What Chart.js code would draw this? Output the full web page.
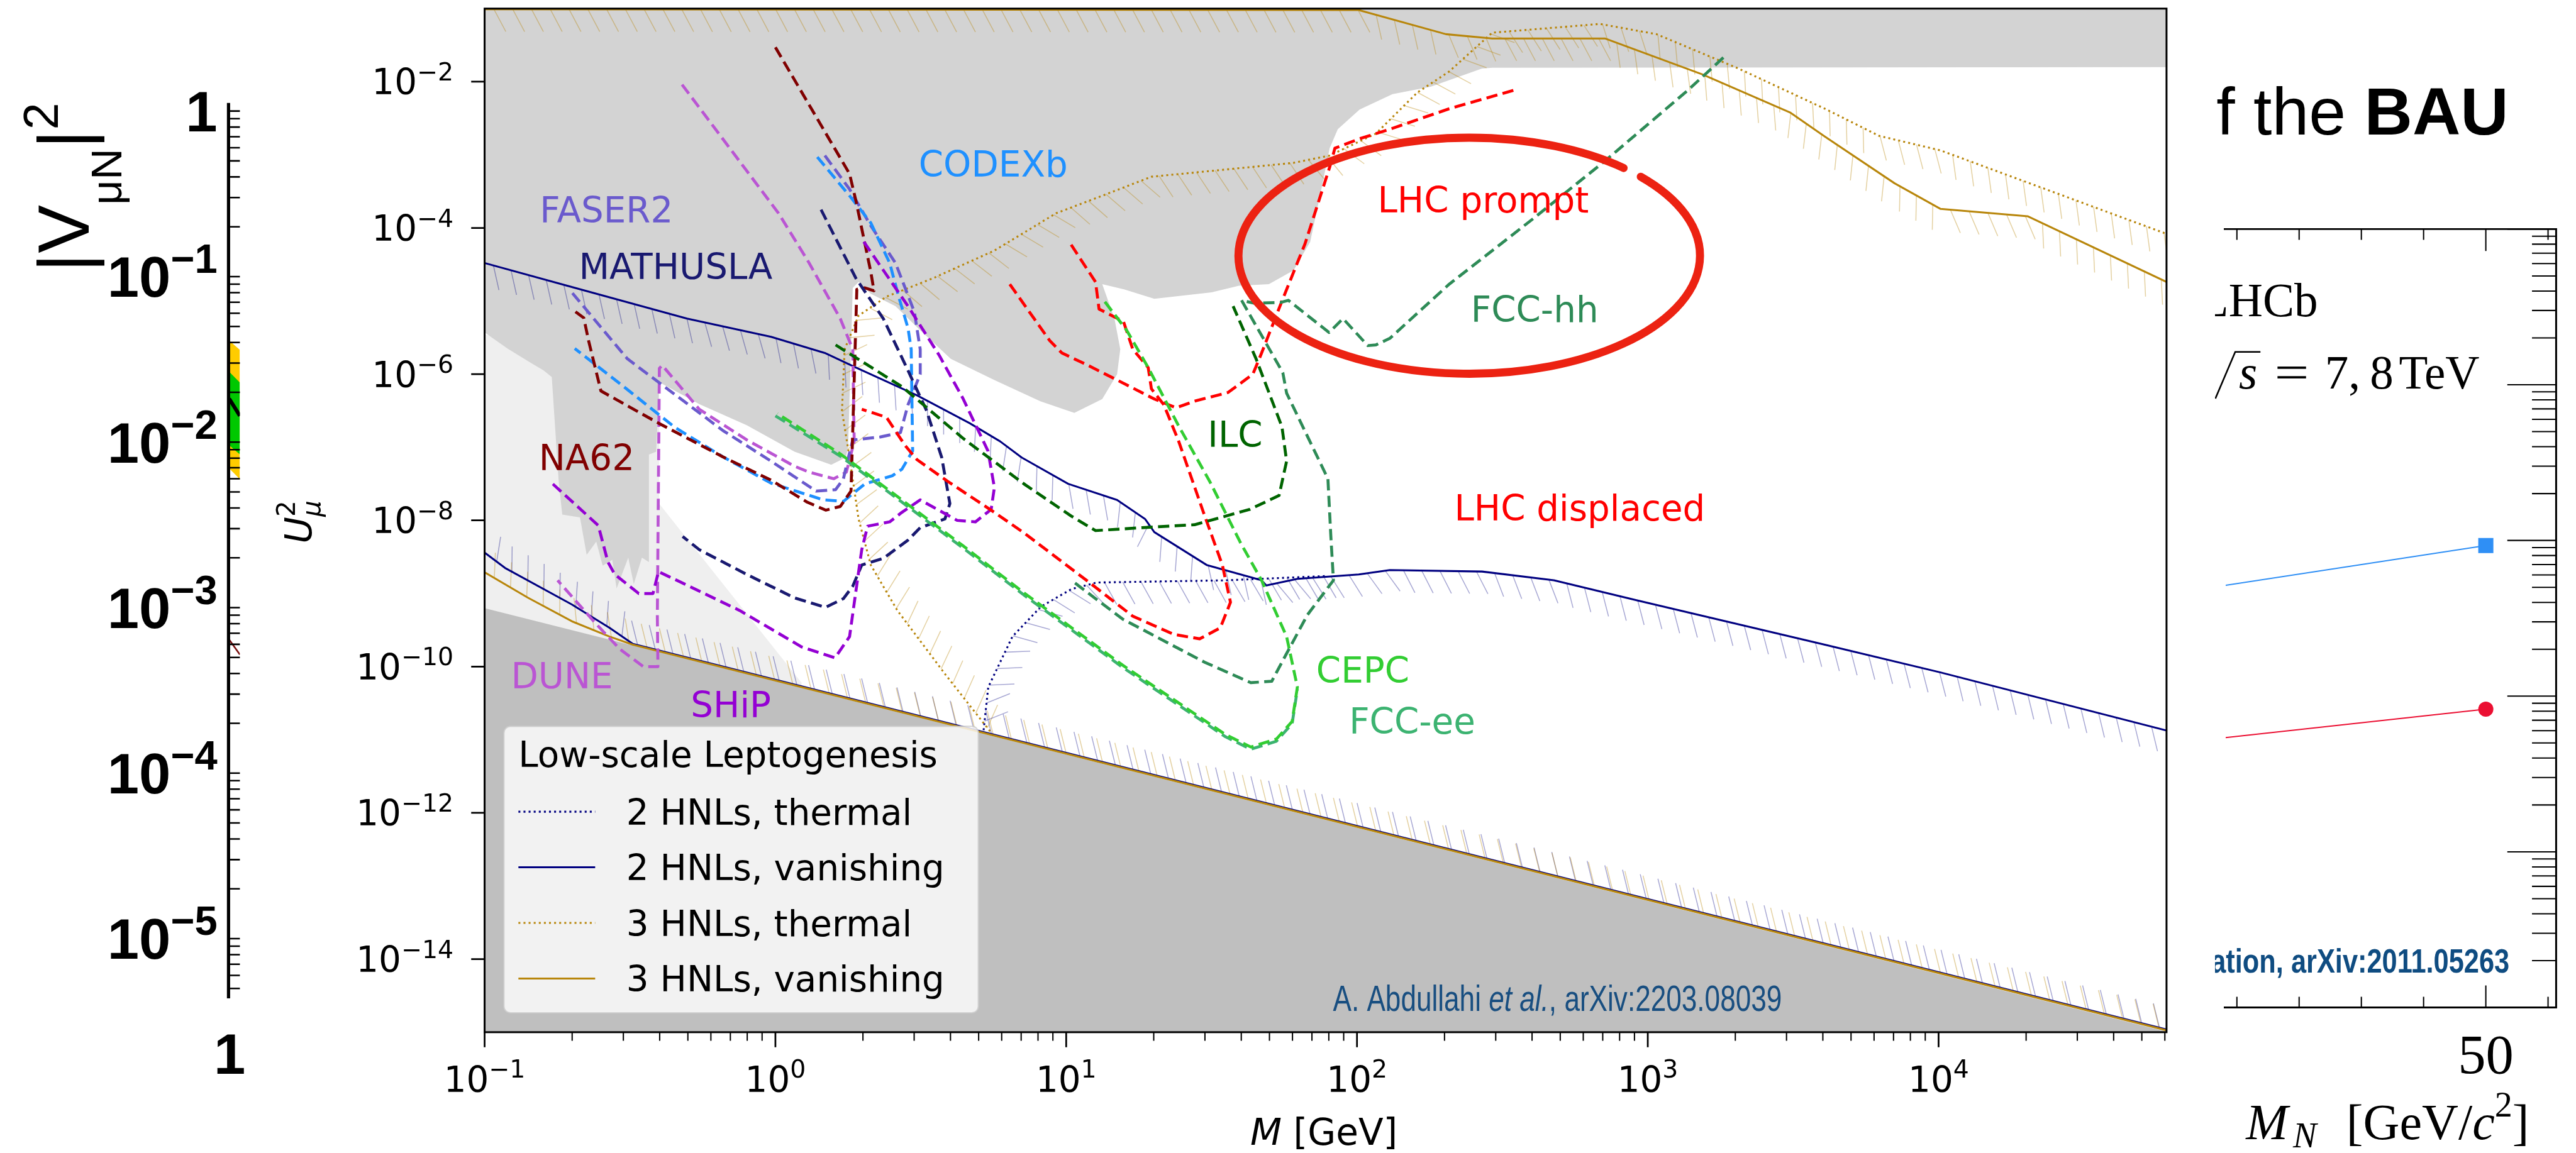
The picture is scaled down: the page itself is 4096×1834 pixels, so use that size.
<!DOCTYPE html>
<html>
<head>
<meta charset="utf-8">
<title>HNL sensitivity</title>
<script src="https://cdn.jsdelivr.net/npm/chart.js@4.4.1/dist/chart.umd.min.js"></script>
<style>
  html, body { margin: 0; padding: 0; background: #fff; }
  body { width: 4096px; height: 1834px; position: relative; overflow: hidden; }
  canvas { position: absolute; top: 0; }
</style>
</head>
<body>
<canvas id="leftPanel" width="400" height="1834" style="left:0"></canvas>
<canvas id="mainPanel" width="3122" height="1834" style="left:400px"></canvas>
<canvas id="rightPanel" width="574" height="1834" style="left:3522px"></canvas>
<script>
const S = 4096 / 4800;          // reference px -> page px
const MX = 400, RX = 3522;      // left edge of the main and right canvases
const mx = X => X * S - MX;
const rx = X => X * S - RX;

// ---------- main panel, points are [log10(M/GeV), log10(U_mu^2)] ----------
const xTickExps = [-1, 0, 1, 2, 3, 4];
const yTickExps = [-14, -12, -10, -8, -6, -4, -2];

const excludedRegion = [
  [-1.05, -0.9], [4.85, -0.9], [4.85, -1.80], [2.465, -1.81], [2.43, -1.82], [2.253, -2.07],
  [2.122, -2.17], [2.009, -2.38], [1.934, -2.65], [1.906, -2.91], [1.876, -3.50], [1.839, -4.19],
  [1.782, -4.58], [1.697, -4.77], [1.594, -4.79], [1.50, -4.88], [1.303, -4.97], [1.199, -4.84],
  [1.124, -4.77], [1.166, -5.24], [1.186, -5.66], [1.175, -6.00], [1.124, -6.34], [1.028, -6.53],
  [0.911, -6.37], [0.753, -6.08], [0.603, -5.79], [0.498, -5.40], [0.413, -5.07], [0.328, -4.90],
  [0.286, -4.74], [0.266, -4.82], [0.25, -7.0], [0.242, -7.14], [0.192, -7.24], [0.066, -7.06],
  [-0.098, -6.70], [-0.262, -6.41], [-0.399, -6.11], [-0.41, -7.06], [-0.435, -7.10], [-0.435, -8.57],
  [-0.459, -8.51], [-0.487, -8.87], [-0.506, -8.51], [-0.546, -8.93], [-0.561, -8.54], [-0.594, -8.62],
  [-0.616, -8.29], [-0.649, -8.47], [-0.672, -7.96], [-0.733, -7.92], [-0.745, -7.48], [-0.769, -6.04],
  [-0.797, -5.95], [-0.839, -5.85], [-0.921, -5.65], [-1.0, -5.43], [-1.05, -5.40]
];
const bbnRegion = [[-1.05, -5.40], [-0.40, -6.11], [-0.40, -7.77], [0.09, -10.22], [0.09, -15.2], [-1.05, -15.2]];
const seesawRegion = [[-1.05, -9.15], [4.85, -15.06], [4.85, -15.2], [-1.05, -15.2]];

const hnl2Vanishing = [
  [-1.0, -4.48], [-0.716, -4.79], [-0.304, -5.24], [-0.015, -5.49], [0.170, -5.71], [0.277, -5.91],
  [0.487, -6.29], [0.668, -6.67], [0.773, -6.92], [0.847, -7.14], [1.007, -7.50], [1.175, -7.72],
  [1.271, -7.98], [1.303, -8.16], [1.483, -8.61], [1.672, -8.82], [1.688, -8.89], [1.795, -8.80],
  [2.006, -8.74], [2.113, -8.68], [2.43, -8.70], [2.677, -8.82], [2.959, -9.09], [3.609, -9.70],
  [4.007, -10.08], [4.79, -10.88]
];
const hnl2VanishingLow = [[4.79, -14.97], [-0.49, -9.69], [-0.57, -9.47], [-0.70, -9.15], [-0.93, -8.65], [-1.0, -8.44]];
const hnl2Thermal = [[0.716, -10.87], [0.732, -10.28], [0.815, -9.59], [0.913, -9.18], [1.018, -8.94], [1.105, -8.85], [1.548, -8.82], [1.90, -8.76]];
const hnl3Vanishing = [
  [-1.0, -1.01], [2.006, -1.02], [2.306, -1.35], [2.465, -1.41], [2.854, -1.41], [3.188, -1.90],
  [3.489, -2.42], [3.609, -2.75], [3.849, -3.39], [4.007, -3.74], [4.306, -3.84], [4.79, -4.75]
];
const hnl3VanishingLow = [[4.79, -14.98], [-0.49, -9.70], [-0.57, -9.59], [-0.70, -9.38], [-0.85, -9.06], [-1.0, -8.71]];
const hnl3Thermal = [
  [0.749, -10.94], [0.585, -10.11], [0.419, -9.23], [0.328, -8.61], [0.286, -7.98], [0.255, -7.14],
  [0.229, -6.50], [0.238, -5.66], [0.286, -5.20], [0.382, -4.94], [0.541, -4.69], [0.753, -4.31],
  [0.965, -3.80], [1.124, -3.56], [1.293, -3.30], [1.50, -3.22], [1.782, -3.11], [1.906, -3.01],
  [2.065, -2.71], [2.207, -2.15], [2.317, -1.86], [2.465, -1.33], [2.836, -1.21], [3.03, -1.35],
  [3.312, -1.82], [3.609, -2.37], [3.795, -2.74], [4.007, -2.94], [4.79, -4.09]
];

const dune = [
  [-0.321, -2.04], [0.011, -3.80], [0.116, -4.48], [0.223, -5.24], [0.266, -5.66], [0.271, -6.92],
  [0.244, -7.34], [0.201, -7.43], [0.116, -7.34], [0.066, -7.26], [-0.098, -6.90], [-0.262, -6.48],
  [-0.389, -5.88], [-0.399, -5.92], [-0.406, -9.31], [-0.404, -10.00], [-0.454, -10.00], [-0.535, -9.76],
  [-0.618, -9.41], [-0.749, -8.82]
];
const faser2 = [
  [0.170, -3.01], [0.255, -3.47], [0.328, -3.97], [0.413, -4.48], [0.478, -5.15], [0.498, -5.66],
  [0.498, -6.00], [0.456, -6.42], [0.430, -6.80], [0.360, -6.86], [0.266, -6.90], [0.249, -7.17],
  [0.234, -7.43], [0.207, -7.58], [0.140, -7.60], [-0.015, -7.19], [-0.181, -6.77], [-0.345, -6.28],
  [-0.509, -5.79], [-0.707, -4.85]
];
const codexb = [
  [0.144, -3.03], [0.255, -3.56], [0.328, -3.93], [0.393, -4.48], [0.424, -4.94], [0.456, -5.37],
  [0.467, -5.66], [0.472, -7.05], [0.435, -7.30], [0.402, -7.39], [0.308, -7.50], [0.277, -7.60],
  [0.234, -7.74], [0.170, -7.72], [0.149, -7.70], [-0.015, -7.49], [-0.181, -7.13], [-0.345, -6.73],
  [-0.509, -6.21], [-0.69, -5.65]
];
const na62 = [
  [0.0, -1.53], [0.255, -3.26], [0.277, -3.63], [0.328, -4.60], [0.339, -4.86], [0.308, -4.82],
  [0.280, -4.84], [0.271, -6.08], [0.260, -7.60], [0.223, -7.81], [0.173, -7.86], [0.109, -7.75],
  [-0.015, -7.45], [-0.181, -7.13], [-0.402, -6.67], [-0.60, -6.23], [-0.642, -5.55], [-0.659, -5.23],
  [-0.70, -5.11]
];
const mathusla = [
  [0.157, -3.75], [0.277, -4.69], [0.371, -5.24], [0.456, -5.95], [0.520, -6.50], [0.572, -7.14],
  [0.60, -7.77], [0.583, -7.98], [0.498, -8.10], [0.456, -8.27], [0.371, -8.52], [0.297, -8.61],
  [0.266, -8.90], [0.234, -9.07], [0.172, -9.19], [0.066, -9.06], [-0.098, -8.74], [-0.262, -8.40],
  [-0.319, -8.22]
];
const ship = [
  [0.304, -4.19], [0.456, -5.07], [0.563, -5.74], [0.646, -6.34], [0.731, -7.05], [0.753, -7.55],
  [0.742, -7.85], [0.688, -8.02], [0.625, -8.00], [0.498, -7.72], [0.435, -7.89], [0.393, -8.02],
  [0.317, -8.08], [0.297, -8.40], [0.288, -8.65], [0.255, -9.59], [0.205, -9.88], [0.09, -9.73],
  [-0.124, -9.23], [-0.402, -8.70], [-0.421, -9.00], [-0.47, -9.00], [-0.552, -8.74], [-0.576, -8.57],
  [-0.609, -8.07], [-0.766, -7.50]
];
const lhcDisplaced = [
  [1.017, -4.23], [1.101, -4.74], [1.113, -5.11], [1.197, -5.28], [1.229, -5.66], [1.282, -5.91],
  [1.293, -6.20], [1.336, -6.42], [1.387, -6.92], [1.472, -7.89], [1.537, -8.61], [1.565, -9.12],
  [1.53, -9.47], [1.459, -9.62], [1.371, -9.56], [1.229, -9.31], [1.07, -8.82], [0.858, -8.18],
  [0.753, -7.89], [0.594, -7.47], [0.487, -7.17], [0.445, -6.97], [0.382, -6.59], [0.297, -6.48]
];
const lhcPrompt = [
  [0.806, -4.77], [0.943, -5.54], [0.985, -5.71], [1.07, -5.87], [1.175, -6.08], [1.303, -6.34],
  [1.378, -6.46], [1.441, -6.37], [1.557, -6.25], [1.642, -6.00], [1.67, -5.73], [1.745, -4.97],
  [1.821, -4.22], [1.906, -3.17], [1.924, -2.91], [2.009, -2.78], [2.113, -2.65], [2.317, -2.37],
  [2.554, -2.10]
];
const ilc = [
  [0.207, -5.60], [0.435, -6.17], [0.646, -6.88], [0.858, -7.51], [1.017, -7.94], [1.101, -8.14],
  [1.26, -8.10], [1.441, -8.06], [1.631, -7.85], [1.732, -7.66], [1.758, -7.19], [1.742, -6.72],
  [1.653, -5.79], [1.574, -5.07]
];
const fccee = [
  [0.0, -6.57], [0.223, -7.12], [0.435, -7.75], [0.646, -8.38], [0.851, -9.01], [1.194, -10.01],
  [1.548, -10.96], [1.635, -11.13], [1.723, -11.02], [1.777, -10.78], [1.795, -10.31]
];
const cepc = [
  [1.133, -5.01], [1.208, -5.40], [1.282, -5.91], [1.387, -6.71], [1.494, -7.47], [1.60, -8.31],
  [1.672, -8.82], [1.758, -9.59], [1.795, -10.28], [1.777, -10.75], [1.723, -10.99], [1.635, -11.10],
  [1.548, -10.93], [1.194, -9.98], [0.851, -8.98], [0.646, -8.35], [0.435, -7.72], [0.223, -7.09],
  [0.007, -6.54]
];
const fcchh = [
  [3.26, -1.67], [3.137, -2.12], [2.854, -3.08], [2.607, -3.87], [2.317, -4.77], [2.113, -5.51],
  [2.065, -5.60], [2.037, -5.61], [1.952, -5.24], [1.904, -5.43], [1.764, -4.99], [1.736, -5.02],
  [1.646, -5.03], [1.603, -4.99], [1.745, -5.98], [1.758, -6.26], [1.90, -7.43], [1.91, -8.21],
  [1.919, -8.82], [1.83, -9.29], [1.758, -9.82], [1.707, -10.20], [1.635, -10.22], [1.476, -9.94],
  [1.194, -9.35], [1.018, -8.82]
];

const tagNames = ['FASER2', 'MATHUSLA', 'CODEXb', 'NA62', 'DUNE', 'SHiP', 'LHC prompt', 'FCC-hh', 'ILC', 'LHC displaced', 'CEPC', 'FCC-ee'];
const tagAt = [[-0.581, -3.75], [-0.343, -4.52], [0.749, -3.12], [-0.649, -7.14], [-0.734, -10.12], [-0.153, -10.52],
  [2.434, -3.61], [2.611, -5.11], [1.581, -6.82], [2.766, -7.83], [2.02, -10.04], [2.19, -10.74]];
const tagColors = ['#6a5acd', '#191970', '#1e90ff', '#800000', '#ba55d3', '#9400d3', '#ff0000', '#2e8b57', '#006400', '#ff0000', '#32cd32', '#3cb371'];
const circledAt = [2.386, -4.38];
const legendTitle = 'Low-scale Leptogenesis';
const legendLabels = ['2 HNLs, thermal', '2 HNLs, vanishing', '3 HNLs, thermal', '3 HNLs, vanishing'];

// ---------- left strip (cut-off |V_muN|^2 plot) ----------
const vTickExps = [0, -1, -2, -3, -4, -5];
const stripX = [1, 1.1];
const band2Hi = [0.0410, 0.0361];
const band1Hi = [0.0266, 0.0229];
const band1Lo = [0.00957, 0.00843];
const band2Lo = [0.00693, 0.00597];
const stripObserved = [0.0183, 0.0144];
const stripOther = [6.41e-4, 5.20e-4];

// ---------- right strip (cut-off LHCb plot) ----------
const lhcbMass = [5, 50];
const lhcbLimitSquares = [4.92e-3, 9.27e-3];
const lhcbLimitCircles = [5.24e-4, 8.24e-4];
const lhcbXTicks = [10, 20, 30, 40, 50, 60];

// ---------- helpers ----------
const pts = a => a.map(p => ({x: 10 ** p[0], y: 10 ** p[1]}));
const xy = (xs, ys) => xs.map((x, i) => ({x, y: ys[i]}));
const DASH = [21, 10], DOT = [3.6, 5.9];
const navyHatch = {color: 'rgba(0,0,128,0.34)', len: 47, gap: 34, angle: 62};
const goldHatch = {color: 'rgba(184,134,11,0.38)', len: 47, gap: 35, angle: 62};

let rank = 60;
const region = (label, a, color) => ({label, data: pts(a), polyFill: color, showLine: false, pointRadius: 0, order: 100});
const curve = (label, a, color, width, dash, hatch) => ({
  label, data: pts(a), borderColor: color, borderWidth: width * S,
  borderDash: dash ? dash.map(d => d * S) : [], borderCapStyle: 'butt', borderJoinStyle: 'round',
  showLine: true, pointRadius: 0, fill: false, hatch, order: rank--
});

function drawHatch(ctx, p, h) {
  const len = h.len * S, gap = h.gap * S, ang = h.angle * Math.PI / 180;
  ctx.beginPath();
  let carry = gap / 2;
  for (let i = 0; i < p.length - 1; i++) {
    const a = p[i], b = p[i + 1];
    const dx = b.x - a.x, dy = b.y - a.y, seg = Math.hypot(dx, dy);
    if (!seg) continue;
    const th = Math.atan2(dy, dx) + ang;
    const tx = Math.cos(th) * len, ty = Math.sin(th) * len;
    let d = carry;
    for (; d <= seg; d += gap) {
      const x = a.x + dx * d / seg, y = a.y + dy * d / seg;
      ctx.moveTo(x, y);
      ctx.lineTo(x + tx, y + ty);
    }
    carry = d - seg;
  }
  ctx.strokeStyle = h.color;
  ctx.lineWidth = 1.8 * S;
  ctx.stroke();
}

// "10" with a raised exponent
function sci(ctx, exp, x, y, F, align, weight, family, supScale, raise) {
  const sup = exp === 0 ? '0' : (exp < 0 ? '\u2212' + (-exp) : String(exp));
  ctx.font = `${weight} ${F}px ${family}`;
  const wb = ctx.measureText('10').width;
  const Fs = F * supScale;
  ctx.font = `${weight} ${Fs}px ${family}`;
  const ws = ctx.measureText(sup).width;
  const w = wb + ws;
  const x0 = align === 'center' ? x - w / 2 : align === 'right' ? x - w : x;
  ctx.textAlign = 'left';
  ctx.textBaseline = 'alphabetic';
  ctx.font = `${weight} ${F}px ${family}`;
  ctx.fillText('10', x0, y);
  ctx.font = `${weight} ${Fs}px ${family}`;
  ctx.fillText(sup, x0 + wb, y - F * raise);
}

function roundRectPath(ctx, x, y, w, h, r) {
  ctx.moveTo(x + r, y);
  ctx.lineTo(x + w - r, y); ctx.arcTo(x + w, y, x + w, y + r, r);
  ctx.lineTo(x + w, y + h - r); ctx.arcTo(x + w, y + h, x + w - r, y + h, r);
  ctx.lineTo(x + r, y + h); ctx.arcTo(x, y + h, x, y + h - r, r);
  ctx.lineTo(x, y + r); ctx.arcTo(x, y, x + r, y, r);
  ctx.closePath();
}

// ---------- main chart ----------
const mainSets = [
  region('bbn', bbnRegion, '#efefef'),
  region('seesaw', seesawRegion, '#bfbfbf'),
  region('excluded', excludedRegion, '#d3d3d3'),
  curve('3 HNLs, vanishing', hnl3Vanishing, '#b8860b', 3.6, null, goldHatch),
  curve('3 HNLs, thermal', hnl3Thermal, '#b8860b', 3.6, DOT, goldHatch),
  curve('2 HNLs, vanishing (low)', hnl2VanishingLow, '#000080', 3.6, null, navyHatch),
  curve('3 HNLs, vanishing (low)', hnl3VanishingLow, '#b8860b', 3.6, null, goldHatch),
  curve('2 HNLs, thermal', hnl2Thermal, '#000080', 3.6, DOT, navyHatch),
  curve('2 HNLs, vanishing', hnl2Vanishing, '#000080', 3.6, null, navyHatch),
  curve('DUNE', dune, '#ba55d3', 5.5, DASH),
  curve('FASER2', faser2, '#6a5acd', 5.5, DASH),
  curve('CODEXb', codexb, '#1e90ff', 5.5, DASH),
  curve('NA62', na62, '#800000', 5.5, DASH),
  curve('MATHUSLA', mathusla, '#191970', 5.5, DASH),
  curve('SHiP', ship, '#9400d3', 5.5, DASH),
  curve('LHC displaced', lhcDisplaced, '#ff0000', 5.5, DASH),
  curve('LHC prompt', lhcPrompt, '#ff0000', 5.5, DASH),
  curve('ILC', ilc, '#006400', 5.5, DASH),
  curve('FCC-ee', fccee, '#3cb371', 5.5, DASH),
  curve('CEPC', cepc, '#32cd32', 5.5, DASH),
  curve('FCC-hh', fcchh, '#2e8b57', 5.5, DASH)
];

const mainDecor = {
  id: 'mainDecor',
  beforeDatasetsDraw(chart) {
    const {ctx, chartArea: a} = chart;
    ctx.save();
    ctx.beginPath();
    ctx.rect(a.left, a.top, a.right - a.left, a.bottom - a.top);
    ctx.clip();
    chart.data.datasets.forEach((ds, i) => {
      if (!ds.polyFill) return;
      const p = chart.getDatasetMeta(i).data;
      ctx.beginPath();
      p.forEach((q, k) => k ? ctx.lineTo(q.x, q.y) : ctx.moveTo(q.x, q.y));
      ctx.closePath();
      ctx.fillStyle = ds.polyFill;
      ctx.fill();
    });
    chart.data.datasets.forEach((ds, i) => {
      if (ds.hatch) drawHatch(ctx, chart.getDatasetMeta(i).data, ds.hatch);
    });
    ctx.restore();
  },
  afterDatasetsDraw(chart) {
    const {ctx, scales: {x, y}} = chart;
    const F = 66 * S;
    ctx.save();
    ctx.textBaseline = 'alphabetic';
    ctx.textAlign = 'center';
    ctx.font = `${F}px 'DejaVu Sans'`;
    tagNames.forEach((t, i) => {
      ctx.fillStyle = tagColors[i];
      ctx.fillText(t, x.getPixelForValue(10 ** tagAt[i][0]), y.getPixelForValue(10 ** tagAt[i][1]) + 0.3645 * F);
    });

    // hand-drawn red ring
    const cx = x.getPixelForValue(10 ** circledAt[0]), cy = y.getPixelForValue(10 ** circledAt[1]);
    ctx.beginPath();
    ctx.ellipse(cx, cy, 430 * S, 220 * S, 0, -42 * Math.PI / 180, 312 * Math.PI / 180);
    ctx.strokeStyle = 'rgb(236,34,18)';
    ctx.lineWidth = 15 * S;
    ctx.lineCap = 'round';
    ctx.stroke();

    // legend
    const bx = mx(939), by = 1354 * S, bw = 884 * S, bh = 534 * S;
    ctx.beginPath();
    roundRectPath(ctx, bx, by, bw, bh, 12 * S);
    ctx.fillStyle = 'rgba(255,255,255,0.8)';
    ctx.fill();
    ctx.strokeStyle = 'rgba(204,204,204,0.8)';
    ctx.lineWidth = 2.5 * S;
    ctx.stroke();
    ctx.textAlign = 'left';
    ctx.fillStyle = '#000';
    ctx.fillText(legendTitle, mx(966), 1430 * S);
    legendLabels.forEach((lab, i) => {
      const ds = chart.data.datasets.find(d => d.label === lab);
      const ly = (1513 + 103.7 * i) * S;
      ctx.beginPath();
      ctx.setLineDash(ds.borderDash);
      ctx.moveTo(mx(966), ly);
      ctx.lineTo(mx(1109), ly);
      ctx.strokeStyle = ds.borderColor;
      ctx.lineWidth = ds.borderWidth;
      ctx.lineCap = 'butt';
      ctx.stroke();
      ctx.setLineDash([]);
      ctx.fillStyle = '#000';
      ctx.fillText(lab, mx(1167), ly + 0.3645 * F);
    });

    // reference
    const cF = 67 * S;
    const parts = [{t: 'A. Abdullahi ', s: ''}, {t: 'et al.', s: 'italic '}, {t: ', arXiv:2203.08039', s: ''}];
    let total = 0;
    parts.forEach(p => { ctx.font = `${p.s}${cF}px 'Liberation Sans'`; p.w = ctx.measureText(p.t).width; total += p.w; });
    ctx.save();
    ctx.translate(mx(2902), 1884 * S);
    ctx.scale(0.772, 1);
    ctx.fillStyle = '#184e80';
    let cx0 = -total / 2;
    parts.forEach(p => { ctx.font = `${p.s}${cF}px 'Liberation Sans'`; ctx.fillText(p.t, cx0, 0); cx0 += p.w; });
    ctx.restore();
    ctx.restore();
  },
  afterDraw(chart) {
    const {ctx, chartArea: a, scales: {x, y}} = chart;
    const F = 66 * S;
    ctx.save();
    ctx.strokeStyle = '#000';
    ctx.lineWidth = 3.2 * S;
    ctx.beginPath();
    xTickExps.forEach(e => {
      const p = x.getPixelForValue(10 ** e);
      ctx.moveTo(p, a.bottom); ctx.lineTo(p, a.bottom + 28 * S);
    });
    yTickExps.forEach(e => {
      const p = y.getPixelForValue(10 ** e);
      ctx.moveTo(a.left, p); ctx.lineTo(a.left - 25 * S, p);
    });
    ctx.stroke();
    ctx.lineWidth = 2.4 * S;
    ctx.beginPath();
    xTickExps.forEach(e => {
      for (let m = 2; m < 10; m++) {
        const v = m * 10 ** e;
        if (v > x.max) break;
        const p = x.getPixelForValue(v);
        ctx.moveTo(p, a.bottom); ctx.lineTo(p, a.bottom + 16 * S);
      }
    });
    ctx.stroke();
    ctx.lineWidth = 3.5 * S;
    ctx.strokeRect(a.left, a.top, a.right - a.left, a.bottom - a.top);

    ctx.fillStyle = '#000';
    xTickExps.forEach(e => sci(ctx, e, x.getPixelForValue(10 ** e), 2035 * S, F, 'center', 'normal', "'DejaVu Sans'", 0.7, 0.4));
    yTickExps.forEach(e => sci(ctx, e, mx(845), y.getPixelForValue(10 ** e) + 0.3645 * F, F, 'right', 'normal', "'DejaVu Sans'", 0.7, 0.4));

    // axis titles
    const tF = 68 * S;
    ctx.textAlign = 'left';
    ctx.font = `italic ${tF}px 'DejaVu Sans'`;
    const wM = ctx.measureText('M').width;
    ctx.font = `${tF}px 'DejaVu Sans'`;
    const wG = ctx.measureText(' [GeV]').width;
    const x0 = mx(2467) - (wM + wG) / 2;
    ctx.font = `italic ${tF}px 'DejaVu Sans'`;
    ctx.fillText('M', x0, 2134 * S);
    ctx.font = `${tF}px 'DejaVu Sans'`;
    ctx.fillText(' [GeV]', x0 + wM, 2134 * S);

    ctx.save();
    ctx.translate(mx(580), 973 * S);
    ctx.rotate(-Math.PI / 2);
    ctx.font = `italic ${tF}px 'DejaVu Sans'`;
    const wU = ctx.measureText('U').width;
    ctx.font = `italic ${tF * 0.7}px 'DejaVu Sans'`;
    const wMu = ctx.measureText('\u03bc').width;
    const st = -(wU + wMu) / 2;
    ctx.font = `italic ${tF}px 'DejaVu Sans'`;
    ctx.fillText('U', st, 0);
    ctx.font = `italic ${tF * 0.7}px 'DejaVu Sans'`;
    ctx.fillText('\u03bc', st + wU, 0.25 * tF);
    ctx.font = `${tF * 0.7}px 'DejaVu Sans'`;
    ctx.fillText('2', st + wU, -0.45 * tF);
    ctx.restore();
    ctx.restore();
  }
};

new Chart(document.getElementById('mainPanel'), {
  type: 'scatter',
  data: {datasets: mainSets},
  options: {
    responsive: false,
    animation: false,
    devicePixelRatio: 1,
    events: [],
    layout: {padding: {left: mx(903), right: 3122 - mx(4037), top: 16 * S, bottom: 1834 - 1924 * S}},
    scales: {
      x: {type: 'logarithmic', min: 0.1, max: 6.08e4, display: false},
      y: {type: 'logarithmic', min: 1e-15, max: 0.1, display: false}
    },
    plugins: {legend: {display: false}, tooltip: {enabled: false}}
  },
  plugins: [mainDecor]
});

// ---------- left strip ----------
const leftDecor = {
  id: 'leftDecor',
  afterDraw(chart) {
    const {ctx, chartArea: a, scales: {y}} = chart;
    ctx.save();
    ctx.strokeStyle = '#000';
    ctx.lineWidth = 3 * S;
    ctx.beginPath();
    for (let e = -6; e <= 0; e++) {
      for (let m = 1; m < 10; m++) {
        const v = m * 10 ** e;
        if (v < y.min || v > y.max) continue;
        const p = y.getPixelForValue(v);
        ctx.moveTo(a.left, p); ctx.lineTo(a.left + 20 * S, p);
      }
    }
    ctx.stroke();
    ctx.lineWidth = 6 * S;
    ctx.beginPath();
    ctx.moveTo(a.left - 1, a.top); ctx.lineTo(a.left - 1, a.bottom);
    ctx.stroke();

    const F = 106 * S;
    ctx.fillStyle = '#000';
    vTickExps.forEach(e => {
      const p = y.getPixelForValue(10 ** e) + 0.358 * F;
      if (e === 0) {
        ctx.font = `bold ${F}px 'Liberation Sans'`;
        ctx.textAlign = 'right';
        ctx.fillText('1', 405 * S, p);
      } else {
        sci(ctx, e, 405 * S, p, F, 'right', 'bold', "'Liberation Sans'", 0.72, 0.42);
      }
    });
    ctx.font = `bold ${F}px 'Liberation Sans'`;
    ctx.textAlign = 'center';
    ctx.fillText('1', 428 * S, 2001 * S);

    // rotated |V_muN|^2
    ctx.save();
    ctx.translate(165 * S, 507 * S);
    ctx.rotate(-Math.PI / 2);
    const tF = 135 * S;
    ctx.textAlign = 'left';
    let t = 0;
    ctx.font = `${tF}px 'Liberation Sans'`;
    ctx.fillText('|V', t, 0); t += ctx.measureText('|V').width;
    ctx.font = `${tF * 0.6}px 'Liberation Sans'`;
    ctx.fillText('\u03bcN', t, 0.45 * tF); t += ctx.measureText('\u03bcN').width;
    ctx.font = `${tF}px 'Liberation Sans'`;
    ctx.fillText('|', t, 0); t += ctx.measureText('|').width;
    ctx.font = `${tF * 0.67}px 'Liberation Sans'`;
    ctx.fillText('2', t, -0.42 * tF);
    ctx.restore();
    ctx.restore();
  }
};

new Chart(document.getElementById('leftPanel'), {
  type: 'scatter',
  data: {datasets: [
    {data: xy(stripX, band2Hi), showLine: true, borderWidth: 0, pointRadius: 0, fill: '+1', backgroundColor: '#ffcc00', order: 4},
    {data: xy(stripX, band2Lo), showLine: true, borderWidth: 0, pointRadius: 0, order: 3},
    {data: xy(stripX, band1Hi), showLine: true, borderWidth: 0, pointRadius: 0, fill: '+1', backgroundColor: '#00c800', order: 2},
    {data: xy(stripX, band1Lo), showLine: true, borderWidth: 0, pointRadius: 0, order: 1},
    {data: xy(stripX, stripObserved), showLine: true, borderColor: '#000', borderWidth: 7 * S, pointRadius: 0, order: 0},
    {data: xy(stripX, stripOther), showLine: true, borderColor: '#7a1010', borderWidth: 3 * S, pointRadius: 0, order: 0}
  ]},
  options: {
    responsive: false,
    animation: false,
    devicePixelRatio: 1,
    events: [],
    layout: {padding: {left: 427 * S, right: 400 - 447 * S, top: 192 * S, bottom: 1834 - 1861 * S}},
    scales: {
      x: {type: 'linear', min: 1, max: 1.1, display: false},
      y: {type: 'logarithmic', min: 10 ** -5.361, max: 10 ** 0.0486, display: false}
    },
    plugins: {legend: {display: false}, tooltip: {enabled: false}}
  },
  plugins: [leftDecor]
});

// ---------- right strip ----------
const rightDecor = {
  id: 'rightDecor',
  afterDraw(chart) {
    const {ctx, chartArea: a, scales: {x, y}} = chart;
    ctx.save();
    ctx.strokeStyle = '#000';
    ctx.lineWidth = 2.4 * S;
    ctx.beginPath();
    lhcbXTicks.forEach(v => {
      const p = x.getPixelForValue(v), L = (v === 50 ? 41 : 20) * S;
      ctx.moveTo(p, a.top); ctx.lineTo(p, a.top + L);
      ctx.moveTo(p, a.bottom); ctx.lineTo(p, a.bottom - L);
    });
    for (let e = -5; e <= 0; e++) {
      for (let m = 1; m < 10; m++) {
        const v = m * 10 ** e;
        if (v > y.max * 1.0001) continue;
        const p = y.getPixelForValue(v), L = (m === 1 ? 91 : 45) * S;
        ctx.moveTo(a.right, p); ctx.lineTo(a.right - L, p);
      }
    }
    ctx.stroke();
    ctx.lineWidth = 3.5 * S;
    ctx.beginPath();
    ctx.moveTo(a.left - 3, a.top); ctx.lineTo(a.right, a.top);
    ctx.lineTo(a.right, a.bottom); ctx.lineTo(a.left - 3, a.bottom);
    ctx.stroke();

    // slide title fragment
    ctx.fillStyle = '#000';
    ctx.textAlign = 'left';
    ctx.textBaseline = 'alphabetic';
    const bF = 124 * S;
    ctx.font = `${bF}px 'Liberation Sans'`;
    ctx.fillText('f the ', rx(4130), 251 * S);
    const wf = ctx.measureText('f the ').width;
    ctx.font = `bold ${bF}px 'Liberation Sans'`;
    ctx.fillText('BAU', rx(4130) + wf, 251 * S);

    // LHCb caption
    const sF = 88 * S;
    ctx.font = `${sF}px 'Liberation Serif'`;
    ctx.textAlign = 'right';
    ctx.fillText('LHCb', rx(4319), 589 * S);
    const base = 724 * S;
    ctx.lineWidth = 3 * S;
    ctx.beginPath();
    ctx.moveTo(rx(4128), 743 * S); ctx.lineTo(rx(4165), 656 * S); ctx.lineTo(rx(4212), 656 * S);
    ctx.stroke();
    ctx.textAlign = 'left';
    ctx.font = `italic ${sF}px 'Liberation Serif'`;
    ctx.fillText('s', rx(4172), base);
    ctx.font = `${sF}px 'Liberation Serif'`;
    ctx.save();
    ctx.translate(rx(4238), base);
    ctx.scale(1.3, 1);
    ctx.fillText('=', 0, 0);
    ctx.restore();
    ctx.fillText('7,', rx(4332), base);
    ctx.fillText('8', rx(4416), base);
    ctx.fillText('TeV', rx(4470), base);

    // reference
    ctx.save();
    ctx.translate(rx(4676), 1813 * S);
    ctx.scale(0.82, 1);
    ctx.font = `bold ${62 * S}px 'Liberation Sans'`;
    ctx.textAlign = 'right';
    ctx.fillStyle = '#0f4c81';
    ctx.fillText('LHCb collaboration, arXiv:2011.05263', 0, 0);
    ctx.restore();

    // axis label
    ctx.fillStyle = '#000';
    ctx.textAlign = 'center';
    ctx.font = `${104 * S}px 'Liberation Serif'`;
    ctx.fillText('50', x.getPixelForValue(50), 2000 * S);
    const aF = 94 * S, ab = 2123 * S;
    ctx.textAlign = 'left';
    let t = rx(4185);
    ctx.font = `italic ${aF}px 'Liberation Serif'`;
    ctx.fillText('M', t, ab); t += ctx.measureText('M').width + 0.1 * aF;
    ctx.font = `italic ${aF * 0.7}px 'Liberation Serif'`;
    ctx.fillText('N', t, ab + 0.17 * aF);
    t = rx(4372);
    ctx.font = `${aF}px 'Liberation Serif'`;
    ctx.fillText('[GeV/', t, ab); t += ctx.measureText('[GeV/').width;
    ctx.font = `italic ${aF}px 'Liberation Serif'`;
    ctx.fillText('c', t, ab); t += ctx.measureText('c').width;
    ctx.font = `${aF * 0.7}px 'Liberation Serif'`;
    ctx.fillText('2', t, ab - 0.45 * aF); t += ctx.measureText('2').width;
    ctx.font = `${aF}px 'Liberation Serif'`;
    ctx.fillText(']', t, ab);
    ctx.restore();
  }
};

new Chart(document.getElementById('rightPanel'), {
  type: 'scatter',
  data: {datasets: [
    {data: xy(lhcbMass, lhcbLimitSquares), showLine: true, borderColor: '#2f8ff5', borderWidth: 2.4 * S,
      pointStyle: 'rect', pointRadius: [0, 17], pointBackgroundColor: '#2f8ff5', pointBorderWidth: 0},
    {data: xy(lhcbMass, lhcbLimitCircles), showLine: true, borderColor: '#eb0f32', borderWidth: 2.4 * S,
      pointStyle: 'circle', pointRadius: [0, 12], pointBackgroundColor: '#eb0f32', pointBorderWidth: 0}
  ]},
  options: {
    responsive: false,
    animation: false,
    devicePixelRatio: 1,
    events: [],
    layout: {padding: {left: rx(4128), right: 574 - rx(4763), top: 427 * S, bottom: 1834 - 1878 * S}},
    scales: {
      x: {type: 'linear', min: 8.2, max: 61.3, display: false},
      y: {type: 'logarithmic', min: 1e-5, max: 1, display: false}
    },
    plugins: {legend: {display: false}, tooltip: {enabled: false}}
  },
  plugins: [rightDecor]
});
</script>
</body>
</html>
